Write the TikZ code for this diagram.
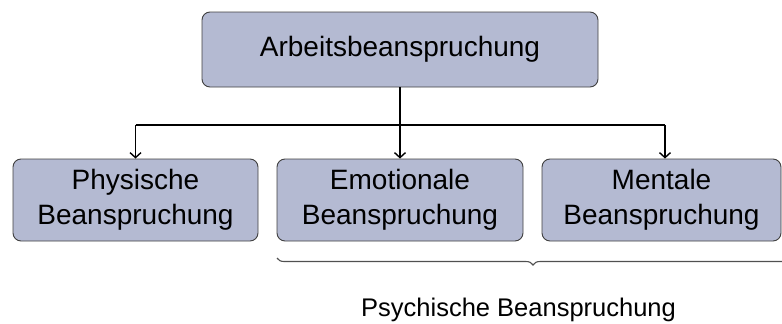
\documentclass[tikz,border=0pt]{standalone}
\usepackage{fontspec}
\setmainfont{Liberation Sans}
\usetikzlibrary{arrows.meta,decorations.pathreplacing}
\definecolor{boxfill}{RGB}{180,186,210}
\definecolor{boxline}{RGB}{64,64,64}
\definecolor{braceline}{RGB}{80,80,80}

\begin{document}
\begin{tikzpicture}[x=1pt,y=-1pt,
  every node/.style={font=\fontsize{28}{35}\selectfont, text=black},
  topic/.style={draw=boxline, line width=0.9pt, fill=boxfill, rounded corners=8pt,
                inner sep=0pt, align=center},
  trunk/.style={line width=1.8pt},
  branch/.style={line width=1.4pt, -{Straight Barb[length=5pt,width=11pt]}},
  grouping/.style={draw=braceline, line width=1.1pt, decorate,
                   decoration={brace, amplitude=7pt, mirror}},
  grouplabel/.style={font=\fontsize{25.5}{30}\selectfont, anchor=base west, inner sep=0pt}]

  \path[use as bounding box, clip] (0,0) rectangle (782,324);

  % boxes
  \node[topic, minimum width=396pt, minimum height=75pt] (arb) at (400,49.5) {Arbeitsbeanspruchung};
  \node[topic, minimum width=245pt, minimum height=82pt] (phy) at (135.5,200) {Physische\\Beanspruchung};
  \node[topic, minimum width=246pt, minimum height=82pt] (emo) at (400,200) {Emotionale\\Beanspruchung};
  \node[topic, minimum width=239pt, minimum height=82pt] (men) at (661.5,200) {Mentale\\Beanspruchung};

  % connectors
  \coordinate (bus) at (400,125);
  \coordinate (menin) at ([xshift=3.5pt]men.north);
  \draw[trunk] (arb.south) -- (bus);
  \draw[trunk] (phy.north |- bus) -- (menin |- bus);
  \draw[branch] (phy.north |- bus) -- (phy.north);
  \draw[branch] (bus) -- (emo.north);
  \draw[branch] (menin |- bus) -- (menin);

  % grouping brace
  \coordinate (bl) at (277,258);
  \coordinate (br) at (789,258);
  \draw[grouping] (bl) -- (br);
  \node[grouplabel] (psy) at (361,316) {Psychische Beanspruchung};
\end{tikzpicture}
\end{document}
